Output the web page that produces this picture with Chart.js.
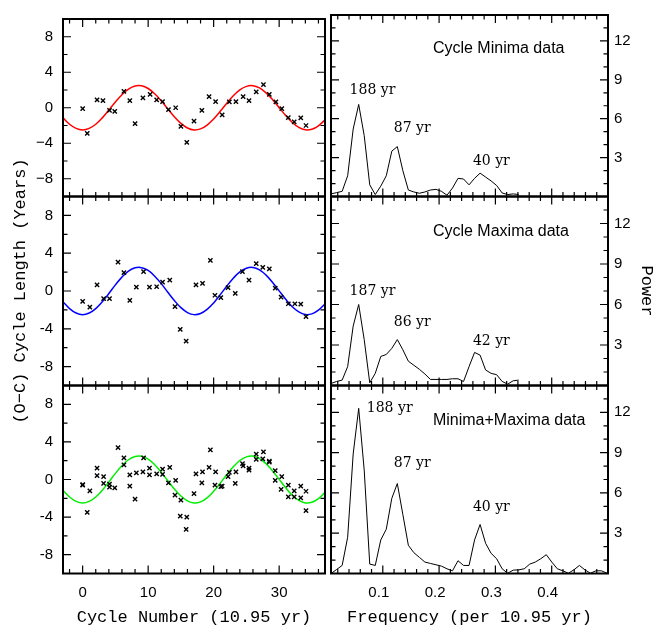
<!DOCTYPE html>
<html>
<head>
<meta charset="utf-8">
<title>O-C cycle length and power spectra</title>
<script src="https://cdn.jsdelivr.net/npm/chart.js@4.4.1/dist/chart.umd.min.js"></script>
<style>
  html, body { margin: 0; padding: 0; background: #fff; }
  #wrap { position: relative; width: 655px; height: 626px; }
  #wrap canvas { position: absolute; left: 0; top: 0; }
</style>
</head>
<body>
<div id="wrap">
  <canvas id="ocMin" width="655" height="626"></canvas>
  <canvas id="ocMax" width="655" height="626"></canvas>
  <canvas id="ocBoth" width="655" height="626"></canvas>
  <canvas id="psMin" width="655" height="626"></canvas>
  <canvas id="psMax" width="655" height="626"></canvas>
  <canvas id="psBoth" width="655" height="626"></canvas>
</div>
<script>
// ---- data ----

// O-C of cycle minima / maxima / both (cycle number, years)
const minX = [0.0, 0.7, 2.2, 3.1, 4.1, 4.9, 6.3, 7.2, 8.0, 9.2, 10.3, 11.3, 12.2, 13.1, 14.2, 15.0, 15.9, 17.0, 18.2, 19.3, 20.3, 21.3, 22.4, 23.4, 24.5, 25.4, 26.5, 27.6, 28.5, 29.5, 30.4, 31.4, 32.3, 33.3, 34.1];
const minY = [-0.1, -2.9, 0.9, 0.8, -0.3, -0.4, 1.85, 0.8, -1.8, 1.1, 1.5, 0.9, 0.7, -0.2, 0.0, -2.1, -3.9, -1.5, -0.3, 1.25, 0.7, -0.8, 0.65, 0.7, 1.25, 0.8, 1.8, 2.6, 1.5, 0.65, -0.1, -1.1, -1.6, -1.15, -2.0];

const maxX = [0.0, 1.1, 2.2, 3.2, 4.1, 5.4, 6.3, 7.2, 8.2, 9.3, 10.2, 11.3, 12.2, 13.3, 14.1, 14.9, 15.8, 17.3, 18.3, 19.5, 20.2, 21.1, 22.2, 23.3, 24.4, 25.4, 26.5, 27.5, 28.5, 29.4, 30.3, 31.4, 32.4, 33.3, 34.1];
const maxY = [-1.1, -1.7, 0.65, -0.8, -0.8, 3.05, 1.95, -1.0, 0.4, 2.05, 0.4, 0.45, 0.95, 1.15, -1.65, -4.05, -5.3, 0.65, 0.8, 3.25, -0.45, -0.7, 0.35, -0.25, 2.05, 1.15, 2.9, 2.5, 2.35, 0.3, -0.65, -1.35, -1.35, -1.4, -2.7];

const bothX = [0.0, 0.0, 0.7, 1.1, 2.2, 2.2, 3.2, 3.2, 4.1, 4.1, 4.9, 5.4, 6.3, 6.3, 7.2, 7.2, 8.0, 8.2, 9.2, 9.3, 10.2, 10.2, 11.3, 12.2, 12.2, 13.1, 13.3, 14.1, 14.2, 14.9, 15.0, 15.8, 15.9, 17.0, 17.3, 18.2, 18.3, 19.3, 19.5, 20.2, 20.3, 21.1, 21.3, 22.2, 22.4, 23.3, 23.4, 24.4, 24.5, 25.4, 25.4, 26.5, 26.5, 27.5, 27.6, 28.5, 28.5, 29.4, 29.4, 30.3, 30.4, 31.4, 31.4, 32.3, 32.3, 33.3, 33.3, 34.1, 34.1];
const bothY = [-0.6, -0.55, -3.5, -1.2, 1.2, 0.4, 0.3, -0.4, -0.5, -0.8, -0.9, 3.4, 2.3, 1.55, 0.5, -0.7, -2.1, 0.7, 0.8, 2.3, 1.2, 0.5, 0.6, 0.55, 1.1, -0.35, 1.3, -1.65, -0.1, -3.9, -2.2, -5.3, -4.0, -1.5, 0.6, -0.35, 0.8, 1.3, 3.15, -0.6, 0.8, -0.75, -0.7, 0.3, 0.75, -0.4, 0.8, 1.7, 1.45, 1.2, 1.0, 2.7, 2.15, 2.2, 2.95, 1.95, 1.85, 0.95, -0.1, -1.05, 0.3, -0.6, -1.85, -1.2, -1.85, -0.7, -1.95, -1.25, -3.3];

// fitted ~188 yr sinusoid, sampled off the plot
const fitX = [-3, -2, -1, 0, 1, 2, 3, 4, 5, 6, 7, 8, 9, 10, 11, 12, 13, 14, 15, 16, 17, 18, 19, 20, 21, 22, 23, 24, 25, 26, 27, 28, 29, 30, 31, 32, 33, 34, 35, 36, 37];
const fitY = [-1.14, -1.86, -2.33, -2.5, -2.33, -1.86, -1.14, -0.26, 0.65, 1.47, 2.1, 2.45, 2.47, 2.17, 1.57, 0.78, -0.13, -1.01, -1.76, -2.28, -2.5, -2.38, -1.95, -1.26, -0.4, 0.51, 1.35, 2.02, 2.41, 2.49, 2.23, 1.68, 0.91, 0.01, -0.88, -1.66, -2.22, -2.49, -2.42, -2.03, -1.37];

// power spectra (frequency per 10.95 yr)
const freq = [0.0082, 0.018, 0.0278, 0.0376, 0.0474, 0.0572, 0.067, 0.0768, 0.0866, 0.0964, 0.1062, 0.116, 0.1258, 0.1356, 0.1454, 0.1552, 0.165, 0.1748, 0.1846, 0.1944, 0.2042, 0.214, 0.2238, 0.2336, 0.2434, 0.2532, 0.263, 0.2728, 0.2826, 0.2924, 0.3022, 0.312, 0.3218, 0.3316, 0.3414, 0.3512, 0.361, 0.3708, 0.3806, 0.3904, 0.4002, 0.41, 0.4198, 0.4296, 0.4394, 0.4492, 0.459, 0.4688, 0.4786, 0.4884, 0.4982];
const powerMin = [0.2, 0.3, 0.4, 1.6, 5.2, 7.1, 4.7, 0.9, 0.15, 0.8, 1.6, 3.5, 3.85, 2.0, 0.5, 0.35, 0.25, 0.35, 0.5, 0.55, 0.4, 0.1, 0.65, 1.4, 1.35, 0.9, 1.4, 1.8, 1.5, 1.2, 0.85, 0.27, 0.15, 0.2, 0.15];
const powerMax = [0.15, 0.3, 0.4, 1.4, 4.4, 6.0, 3.4, 0.2, 0.9, 2.15, 2.3, 2.75, 3.4, 2.65, 1.8, 1.5, 1.2, 0.85, 0.45, 0.45, 0.45, 0.45, 0.5, 0.5, 0.3, 1.4, 2.45, 2.25, 1.15, 0.9, 0.8, 0.3, 0.1, 0.35, 0.4];
const powerBoth = [0.0, 0.3, 0.6, 2.7, 8.9, 12.3, 7.7, 0.7, 0.6, 2.5, 3.3, 5.6, 6.7, 4.4, 2.1, 1.55, 1.2, 0.85, 0.75, 0.65, 0.55, 0.35, 0.2, 0.95, 0.6, 0.6, 2.5, 3.65, 2.25, 1.5, 1.1, 0.35, 0.02, 0.25, 0.27, 0.35, 0.7, 0.85, 1.1, 1.4, 0.85, 0.35, 0.2, 0.02, 0.27, 0.6, 0.27, 0.02, 0.2, 0.2, 0.02];

// tick labels
const cycleTicks = [0, 10, 20, 30];
const ocTicks = [-8, -4, 0, 4, 8];
const freqTicks = [0.1, 0.2, 0.3, 0.4];
const powerTicks = [3, 6, 9, 12];

// peak labels and captions (placed in data coordinates)
const minNotes = ['188 yr', '87 yr', '40 yr'];
const minNoteF = [0.041, 0.1195, 0.26];
const minNoteP = [8.15, 5.26, 2.74];
const maxNotes = ['187 yr', '86 yr', '42 yr'];
const maxNoteF = [0.041, 0.1195, 0.26];
const maxNoteP = [6.95, 4.65, 3.24];
const bothNotes = ['188 yr', '87 yr', '40 yr'];
const bothNoteF = [0.0716, 0.1195, 0.26];
const bothNoteP = [12.3, 8.2, 4.9];
const captions = ['Cycle Minima data', 'Cycle Maxima data', 'Minima+Maxima data'];

// ---- layout ----
const W = 655, H = 626;
const rows = [
  { top: 8, bottom: 196.5 },
  { top: 196.5, bottom: 385.5 },
  { top: 385.5, bottom: 573.5 }
];
const leftCol = { left: 63, right: 325 };
const rightCol = { left: 331, right: 608 };

const tickFont = { family: '"Liberation Sans", Arial, sans-serif', size: 15 };
const titleFont = { family: '"Liberation Mono", monospace', size: 17, lineHeight: 1 };

function minorTicks(scale, minor, major) {
  const out = [];
  const ratio = Math.round(major / minor);
  for (let i = Math.ceil(scale.min / minor - 1e-9); i * minor <= scale.max + 1e-9; i++) {
    const v = i * minor;
    if (Math.abs(v - scale.min) < 1e-6 || Math.abs(v - scale.max) < 1e-6) continue;
    out.push([v, i % ratio === 0]);
  }
  return out;
}

// box with inward ticks on all four sides
const framePlugin = {
  id: 'frame',
  afterDatasetsDraw(chart, args, opts) {
    const { ctx, chartArea: a, scales: { x, y } } = chart;
    ctx.save();
    ctx.strokeStyle = '#000';
    ctx.lineWidth = 1.2;
    ctx.beginPath();
    minorTicks(x, opts.xMinor, opts.xMajor).forEach(([v, major]) => {
      const px = x.getPixelForValue(v), len = major ? 8 : 4.5;
      ctx.moveTo(px, a.bottom); ctx.lineTo(px, a.bottom - len);
      ctx.moveTo(px, a.top); ctx.lineTo(px, a.top + len);
    });
    minorTicks(y, opts.yMinor, opts.yMajor).forEach(([v, major]) => {
      const py = y.getPixelForValue(v), len = major ? 8 : 4.5;
      ctx.moveTo(a.left, py); ctx.lineTo(a.left + len, py);
      ctx.moveTo(a.right, py); ctx.lineTo(a.right - len, py);
    });
    ctx.stroke();
    ctx.lineWidth = 2;
    ctx.strokeRect(a.left, a.top, a.right - a.left, a.bottom - a.top);
    ctx.restore();
  }
};

// text annotations in data coordinates
const notesPlugin = {
  id: 'notes',
  afterDraw(chart, args, opts) {
    if (!opts.items) return;
    const { ctx, scales: { x, y } } = chart;
    ctx.save();
    ctx.fillStyle = '#000';
    ctx.textAlign = 'left';
    ctx.textBaseline = 'middle';
    opts.items.forEach(it => {
      ctx.font = it.font;
      ctx.fillText(it.text, x.getPixelForValue(it.x), y.getPixelForValue(it.y));
    });
    ctx.restore();
  }
};

function ocPanel(id, rowIdx, xs, ys, color, minusSign) {
  const row = rows[rowIdx];
  const isBottom = rowIdx === 2;
  const isMiddle = rowIdx === 1;
  new Chart(document.getElementById(id), {
    type: 'scatter',
    data: {
      datasets: [
        {
          data: xs.map((v, i) => ({ x: v, y: ys[i] })),
          pointStyle: 'crossRot',
          pointRadius: 3,
          pointBorderWidth: 1.4,
          borderColor: '#000',
          pointBorderColor: '#000',
          backgroundColor: '#000'
        },
        {
          data: fitX.map((v, i) => ({ x: v, y: fitY[i] })),
          showLine: true,
          pointRadius: 0,
          borderColor: color,
          borderWidth: 1.5,
          tension: 0.4,
          fill: false
        }
      ]
    },
    options: {
      responsive: false,
      animation: false,
      events: [],
      layout: {
        padding: { left: 0, right: W - leftCol.right, top: row.top, bottom: isBottom ? 0 : H - row.bottom }
      },
      plugins: {
        legend: { display: false },
        tooltip: { enabled: false },
        frame: { xMinor: 2, xMajor: 10, yMinor: 2, yMajor: 4 }
      },
      scales: {
        x: {
          type: 'linear',
          min: -3,
          max: 37,
          grid: { display: false, drawTicks: false },
          border: { display: false },
          afterBuildTicks: s => { s.ticks = cycleTicks.map(v => ({ value: v })); },
          afterFit: s => { s.height = isBottom ? H - row.bottom : 0; },
          ticks: { display: isBottom, font: tickFont, color: '#000', padding: 10.5, maxRotation: 0 },
          title: {
            display: isBottom,
            text: 'Cycle Number (10.95 yr)',
            font: titleFont,
            color: '#000',
            padding: { top: 0, bottom: 0.5 }
          }
        },
        y: {
          type: 'linear',
          position: 'left',
          min: -10,
          max: 10,
          grid: { display: false, drawTicks: false },
          border: { display: false },
          afterBuildTicks: s => { s.ticks = ocTicks.map(v => ({ value: v })); },
          afterFit: s => { s.width = leftCol.left; },
          ticks: {
            font: tickFont,
            color: '#000',
            padding: 10,
            callback: v => (v < 0 ? (minusSign ? '\u2212' : '-') + Math.abs(v) : String(v))
          },
          title: {
            display: isMiddle,
            text: '(O\u2212C) Cycle Length (Years)',
            font: titleFont,
            color: '#000',
            padding: { top: 11.5, bottom: 0 }
          }
        }
      }
    },
    plugins: [framePlugin]
  });
}

function psPanel(id, rowIdx, power, notes, noteF, noteP, caption) {
  const row = rows[rowIdx];
  const isBottom = rowIdx === 2;
  const isMiddle = rowIdx === 1;
  const items = notes.map((t, i) => ({ text: t, x: noteF[i], y: noteP[i], font: '14px "DejaVu Serif", serif' }));
  items.push({ text: caption, x: 0.189, y: 11.4, font: '16px "Liberation Sans", Arial, sans-serif' });
  new Chart(document.getElementById(id), {
    type: 'scatter',
    data: {
      datasets: [{
        data: power.map((p, i) => ({ x: freq[i], y: p })),
        showLine: true,
        pointRadius: 0,
        borderColor: '#000',
        borderWidth: 1,
        tension: 0,
        fill: false
      }]
    },
    options: {
      responsive: false,
      animation: false,
      events: [],
      layout: {
        padding: { left: rightCol.left, right: 0, top: row.top, bottom: isBottom ? 0 : H - row.bottom }
      },
      plugins: {
        legend: { display: false },
        tooltip: { enabled: false },
        frame: { xMinor: 0.02, xMajor: 0.1, yMinor: 1, yMajor: 3 },
        notes: { items: items }
      },
      scales: {
        x: {
          type: 'linear',
          min: 0.008,
          max: 0.5,
          grid: { display: false, drawTicks: false },
          border: { display: false },
          afterBuildTicks: s => { s.ticks = freqTicks.map(v => ({ value: v })); },
          afterFit: s => { s.height = isBottom ? H - row.bottom : 0; },
          ticks: {
            display: isBottom,
            font: tickFont,
            color: '#000',
            padding: 10.5,
            maxRotation: 0,
            labelOffset: -4,
            callback: v => v.toFixed(1)
          },
          title: {
            display: isBottom,
            text: 'Frequency (per 10.95 yr)',
            font: titleFont,
            color: '#000',
            padding: { top: 0, bottom: 0.5 }
          }
        },
        y: {
          type: 'linear',
          position: 'right',
          min: 0,
          max: 14,
          grid: { display: false, drawTicks: false },
          border: { display: false },
          afterBuildTicks: s => { s.ticks = powerTicks.map(v => ({ value: v })); },
          afterFit: s => { s.width = W - rightCol.right; },
          ticks: { font: tickFont, color: '#000', padding: 6 },
          title: {
            display: isMiddle,
            text: 'Power',
            font: titleFont,
            color: '#000',
            padding: { top: 0.5, bottom: 0 }
          }
        }
      }
    },
    plugins: [framePlugin, notesPlugin]
  });
}

ocPanel('ocMin', 0, minX, minY, '#ff0000', true);
ocPanel('ocMax', 1, maxX, maxY, '#0000ff', false);
ocPanel('ocBoth', 2, bothX, bothY, '#00ee00', false);

psPanel('psMin', 0, powerMin, minNotes, minNoteF, minNoteP, captions[0]);
psPanel('psMax', 1, powerMax, maxNotes, maxNoteF, maxNoteP, captions[1]);
psPanel('psBoth', 2, powerBoth, bothNotes, bothNoteF, bothNoteP, captions[2]);
</script>
</body>
</html>
